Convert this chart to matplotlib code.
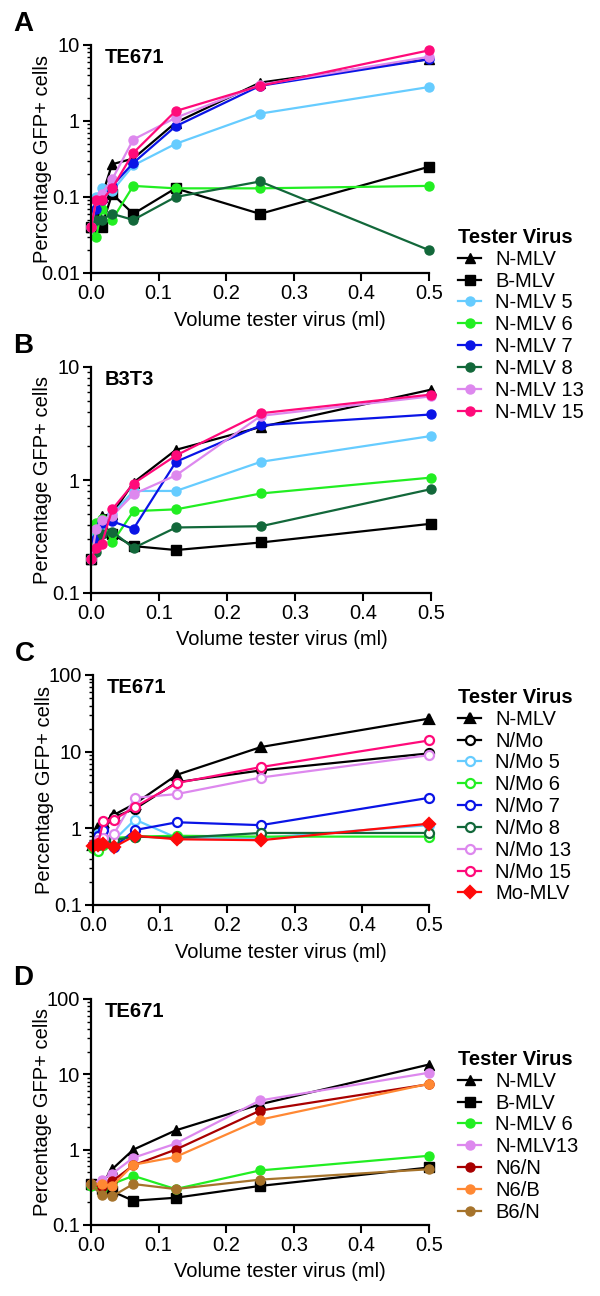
import numpy as np
import matplotlib
matplotlib.use('Agg')
import matplotlib.pyplot as plt
from matplotlib.ticker import FuncFormatter, LogLocator

plt.rcParams['font.family'] = ['Liberation Sans', 'DejaVu Sans']

# volumes (ml)
vol = [0, 0.0078, 0.0156, 0.03125, 0.0625, 0.125, 0.25, 0.5]
vol_d = [0, 0.0156, 0.03125, 0.0625, 0.125, 0.25, 0.5]

# Panel A - TE671
a_names = ["N-MLV", "B-MLV", "N-MLV 5", "N-MLV 6", "N-MLV 7", "N-MLV 8", "N-MLV 13", "N-MLV 15"]
a_nmlv = [0.04, 0.07, 0.10, 0.27, 0.32, 0.95, 3.2, 6.5]
a_bmlv = [0.04, 0.05, 0.04, 0.11, 0.06, 0.13, 0.06, 0.25]
a_n5 = [0.04, 0.10, 0.13, 0.12, 0.26, 0.50, 1.25, 2.8]
a_n6 = [0.04, 0.03, 0.07, 0.05, 0.14, 0.13, 0.13, 0.14]
a_n7 = [0.04, 0.07, 0.09, 0.14, 0.28, 0.85, 2.9, 6.5]
a_n8 = [0.04, 0.05, 0.05, 0.06, 0.05, 0.10, 0.16, 0.02]
a_n13 = [0.04, 0.09, 0.11, 0.17, 0.57, 1.10, 3.0, 7.0]
a_n15 = [0.04, 0.09, 0.09, 0.13, 0.38, 1.35, 2.9, 8.5]

# Panel B - B3T3
b_nmlv = [0.20, 0.30, 0.48, 0.50, 0.95, 1.85, 2.95, 6.3]
b_bmlv = [0.20, 0.30, 0.35, 0.33, 0.26, 0.24, 0.28, 0.41]
b_n5 = [0.20, 0.32, 0.40, 0.50, 0.80, 0.80, 1.45, 2.45]
b_n6 = [0.20, 0.42, 0.45, 0.28, 0.53, 0.55, 0.76, 1.05]
b_n7 = [0.20, 0.30, 0.42, 0.43, 0.37, 1.45, 3.05, 3.8]
b_n8 = [0.20, 0.23, 0.33, 0.35, 0.25, 0.38, 0.39, 0.83]
b_n13 = [0.20, 0.37, 0.44, 0.48, 0.75, 1.10, 3.7, 5.5]
b_n15 = [0.20, 0.25, 0.27, 0.55, 0.93, 1.65, 3.9, 5.7]

# Panel C - TE671
c_names = ["N-MLV", "N/Mo", "N/Mo 5", "N/Mo 6", "N/Mo 7", "N/Mo 8", "N/Mo 13", "N/Mo 15", "Mo-MLV"]
c_nmlv = [0.60, 1.0, 1.2, 1.5, 2.1, 5.0, 11.5, 27]
c_nmo = [0.60, 0.9, 1.0, 1.4, 1.8, 4.0, 5.7, 9.5]
c_m5 = [0.60, 0.85, 0.75, 0.70, 1.3, 0.75, 0.75, 1.1]
c_m6 = [0.55, 0.50, 0.60, 0.75, 0.78, 0.80, 0.78, 0.78]
c_m7 = [0.60, 0.80, 0.95, 0.57, 0.95, 1.2, 1.1, 2.5]
c_m8 = [0.60, 0.60, 0.65, 0.70, 0.78, 0.75, 0.87, 0.87]
c_m13 = [0.60, 0.70, 0.75, 0.85, 2.5, 2.8, 4.6, 9.0]
c_m15 = [0.60, 0.65, 1.25, 1.3, 1.9, 3.9, 6.3, 14]
c_momlv = [0.58, 0.60, 0.63, 0.57, 0.80, 0.72, 0.70, 1.15]

# Panel D - TE671
d_names = ["N-MLV", "B-MLV", "N-MLV 6", "N-MLV13", "N6/N", "N6/B", "B6/N"]
d_nmlv = [0.35, 0.35, 0.55, 1.0, 1.8, 4.0, 13.5]
d_bmlv = [0.35, 0.30, 0.28, 0.21, 0.23, 0.33, 0.58]
d_n6 = [0.33, 0.30, 0.35, 0.45, 0.30, 0.53, 0.83]
d_n13 = [0.35, 0.40, 0.48, 0.78, 1.2, 4.5, 10.5]
d_n6n = [0.35, 0.32, 0.38, 0.62, 1.0, 3.3, 7.4]
d_n6b = [0.35, 0.35, 0.33, 0.63, 0.80, 2.5, 7.5]
d_b6n = [0.35, 0.25, 0.24, 0.35, 0.30, 0.40, 0.55]

BLACK = 'black'
LBLUE = '#66ccff'
GREEN = '#22ee22'
BLUE = '#0a14e6'
DGREEN = '#12683a'
VIOLET = '#dd88ee'
PINK = '#ff0a7a'
RED = '#ff0a0a'
DRED = '#a80000'
ORANGE = '#ff8833'
BROWN = '#a6732b'

FS = 14.5
W, H = 600, 1296
fig = plt.figure(figsize=(W / 100, H / 100), dpi=100)


def make_ax(l, r, t, b):
    return fig.add_axes([l / W, 1 - b / H, (r - l) / W, (b - t) / H])


def style(ax, ylim, label, letter):
    ax.set_yscale('log')
    ax.set_ylim(*ylim)
    ax.set_xlim(0, 0.5)
    ax.set_xticks([0, 0.1, 0.2, 0.3, 0.4, 0.5])
    ax.xaxis.set_major_formatter(FuncFormatter(lambda v, p: '%.1f' % v))
    ax.yaxis.set_major_formatter(FuncFormatter(lambda v, p: '%g' % v))
    ax.yaxis.set_minor_locator(LogLocator(base=10, subs=np.arange(2, 10)))
    ax.yaxis.set_minor_formatter(FuncFormatter(lambda v, p: ''))
    for s in ['top', 'right']:
        ax.spines[s].set_visible(False)
    for s in ['left', 'bottom']:
        ax.spines[s].set_linewidth(1.6)
    ax.tick_params(which='major', direction='out', length=6, width=1.5, labelsize=FS, pad=2)
    ax.tick_params(which='minor', direction='out', length=3, width=1.0)
    ax.set_ylabel('Percentage GFP+ cells', fontsize=FS)
    ax.set_xlabel('Volume tester virus (ml)', fontsize=FS)
    pos = ax.get_position()
    ax.yaxis.set_label_coords(-39 / (pos.width * W), 0.5)
    ax.xaxis.set_label_coords(0.56, -0.165)
    ax.text(0.04, 0.985, label, transform=ax.transAxes, fontsize=FS, fontweight='bold', va='top')
    fig.text(pos.x0 - 78 / W, pos.y1 + 8 / H, letter,
             fontsize=20, fontweight='bold', va='bottom')


def leg(handles, labels, x, y):
    lg = fig.legend(handles, labels, loc='upper left', bbox_to_anchor=(x / W, 1 - y / H),
                    frameon=False, fontsize=FS, title='Tester Virus', alignment='left',
                    handlelength=1.15, handletextpad=0.7, labelspacing=0.14,
                    borderpad=0, borderaxespad=0)
    lg.get_title().set_fontweight('bold')
    lg.get_title().set_fontsize(FS)
    return lg


kw = dict(lw=1.6, ms=6.5, clip_on=False)

# ---- A
axA = make_ax(91, 429, 45, 273)
a_series = [(a_nmlv, BLACK, '^'), (a_bmlv, BLACK, 's'), (a_n5, LBLUE, 'o'), (a_n6, GREEN, 'o'),
            (a_n7, BLUE, 'o'), (a_n8, DGREEN, 'o'), (a_n13, VIOLET, 'o'), (a_n15, PINK, 'o')]
hA = []
for ys, c, m in a_series:
    hA.append(axA.plot(vol, ys, color=c, marker=m, mfc=c, mec=c, **kw)[0])
style(axA, (0.01, 10), 'TE671', 'A')

# ---- B
axB = make_ax(91, 431, 367, 593)
b_series = [(b_nmlv, BLACK, '^'), (b_bmlv, BLACK, 's'), (b_n5, LBLUE, 'o'), (b_n6, GREEN, 'o'),
            (b_n7, BLUE, 'o'), (b_n8, DGREEN, 'o'), (b_n13, VIOLET, 'o'), (b_n15, PINK, 'o')]
for ys, c, m in b_series:
    axB.plot(vol, ys, color=c, marker=m, mfc=c, mec=c, **kw)
style(axB, (0.1, 10), 'B3T3', 'B')
leg(hA, a_names, 458, 228)

# ---- C
axC = make_ax(93, 429, 675, 905)
c_series = [(c_nmlv, BLACK, '^', True), (c_nmo, BLACK, 'o', False), (c_m5, LBLUE, 'o', False),
            (c_m6, GREEN, 'o', False), (c_m7, BLUE, 'o', False), (c_m8, DGREEN, 'o', False),
            (c_m13, VIOLET, 'o', False), (c_m15, PINK, 'o', False), (c_momlv, RED, 'D', True)]
hC = []
for ys, c, m, filled in c_series:
    hC.append(axC.plot(vol, ys, color=c, marker=m, mfc=c if filled else 'white', mec=c,
                       mew=1.6, **kw)[0])
style(axC, (0.1, 100), 'TE671', 'C')
leg(hC, c_names, 458, 688)

# ---- D
axD = make_ax(91, 429, 999, 1225)
d_series = [(d_nmlv, BLACK, '^'), (d_bmlv, BLACK, 's'), (d_n6, GREEN, 'o'), (d_n13, VIOLET, 'o'),
            (d_n6n, DRED, 'o'), (d_n6b, ORANGE, 'o'), (d_b6n, BROWN, 'o')]
hD = []
for ys, c, m in d_series:
    hD.append(axD.plot(vol_d, ys, color=c, marker=m, mfc=c, mec=c, **kw)[0])
style(axD, (0.1, 100), 'TE671', 'D')
leg(hD, d_names, 458, 1050)

fig.savefig('out.png', dpi=100)
